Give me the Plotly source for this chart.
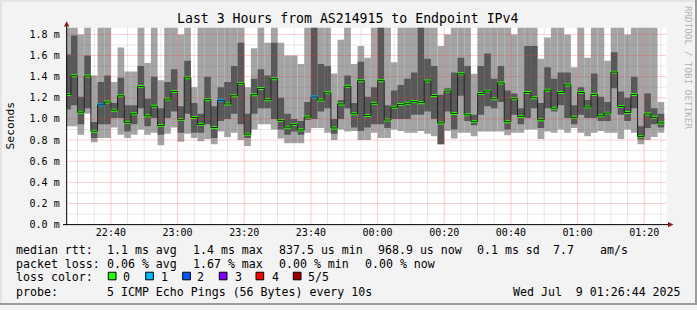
import plotly.graph_objects as go
import pandas as pd

W, H = 697, 310

# ---------------- data (ms) ----------------
col_start = pd.date_range("2025-07-08 22:26:00", periods=90, freq="120s")
ping_min = [0.93,0.93,0.85,1.05,0.78,0.82,0.82,0.92,0.85,0.82,
            0.85,0.90,0.85,0.87,0.75,0.86,0.92,0.785,0.86,0.82,
            0.79,0.81,0.76,0.88,0.83,0.87,0.80,0.745,0.90,0.95,
            0.95,0.90,0.815,0.77,0.77,0.77,0.87,0.915,0.915,0.87,
            0.80,0.90,0.88,0.885,0.80,0.80,0.87,0.82,0.82,0.90,
            0.885,0.87,0.87,0.885,0.86,0.835,0.76,0.885,0.815,0.87,
            0.87,0.835,0.88,0.88,0.88,0.88,0.845,0.87,0.87,0.90,
            0.90,0.81,0.88,0.87,0.90,0.87,0.915,0.87,0.835,0.87,
            0.885,0.87,0.87,0.81,0.90,0.87,0.76,0.80,0.83,0.87]
ping_lo = [1.09,1.13,0.95,1.10,0.82,0.95,0.95,1.01,1.01,0.88,
           0.95,1.10,0.93,1.01,0.85,1.01,1.07,0.87,1.05,0.87,
           0.87,0.95,0.82,0.98,1.00,1.05,0.95,0.82,1.05,1.10,
           1.10,1.00,0.90,0.85,0.88,0.85,0.99,1.00,1.07,1.10,
           0.86,1.00,1.10,0.92,0.885,0.92,0.95,0.95,0.915,1.00,
           1.00,1.00,1.04,1.04,1.07,1.00,0.76,1.07,0.90,1.22,
           0.98,0.94,1.04,1.12,1.10,1.16,0.90,1.04,0.95,1.01,
           1.10,0.915,1.10,1.07,1.13,1.01,0.95,1.04,1.01,1.01,
           0.98,0.98,1.29,1.04,0.98,1.10,0.805,0.915,0.95,0.92]
median = [1.232,1.409,1.064,1.406,0.884,1.133,1.160,1.083,1.219,0.968,
          1.049,1.306,1.030,1.120,0.937,1.188,1.260,0.996,1.390,1.014,
          0.949,1.182,0.919,1.176,1.142,1.219,1.334,0.856,1.229,1.288,
          1.182,1.381,0.984,0.922,0.946,0.897,1.018,1.207,1.179,1.247,
          0.915,1.142,1.309,1.049,1.362,1.033,1.148,1.362,0.990,1.111,
          1.136,1.148,1.164,1.154,1.359,1.222,0.962,1.263,1.052,1.427,
          1.039,0.977,1.241,1.263,1.191,1.340,0.974,1.191,1.024,1.250,
          1.201,0.993,1.272,1.101,1.250,1.322,1.015,1.250,1.114,1.232,
          1.030,1.055,1.443,1.117,1.061,1.232,0.835,1.046,1.015,0.962]
ping_hi = [1.61,1.79,1.21,1.60,0.97,1.35,1.41,1.15,1.39,1.13,
           1.13,1.50,1.19,1.40,1.10,1.35,1.47,1.12,1.55,1.15,
           1.05,1.40,1.12,1.30,1.35,1.50,1.72,1.05,1.38,1.47,
           1.41,1.72,1.20,1.05,1.00,0.98,1.16,1.95,1.52,1.50,
           1.00,1.18,1.41,1.15,1.54,1.21,1.30,1.95,1.13,1.27,
           1.32,1.38,1.44,1.95,1.57,1.50,1.23,1.29,1.44,1.58,
           1.50,1.04,1.50,1.62,1.38,1.50,1.27,1.24,1.10,1.69,
           1.69,1.15,1.49,1.38,1.44,1.44,1.13,1.30,1.18,1.43,
           1.21,1.16,1.63,1.26,1.20,1.40,0.93,1.24,1.10,1.05]
ping_max = [1.95,1.95,1.80,1.95,1.41,1.95,1.95,1.35,1.675,1.45,
            1.45,1.95,1.53,1.95,1.365,1.95,1.95,1.80,1.95,1.30,
            1.95,1.95,1.95,1.95,1.95,1.95,1.95,1.30,1.67,1.95,
            1.72,1.95,1.72,1.60,1.60,1.52,1.95,1.95,1.95,1.95,
            1.43,1.75,1.95,1.52,1.69,1.58,1.95,1.95,1.95,1.536,
            1.95,1.95,1.95,1.95,1.95,1.95,1.69,1.80,1.95,1.95,
            1.95,1.427,1.95,1.95,1.95,1.95,1.95,1.80,1.95,1.95,
            1.95,1.57,1.77,1.95,1.95,1.80,1.49,1.95,1.58,1.95,
            1.95,1.55,1.95,1.95,1.80,1.95,1.95,1.95,1.95,1.16]
loss = [0]*90
for j in (5, 23, 37):
    loss[j] = 1

loss_labels = ["0", "1", "2", "3", "4", "5/5"]
loss_colors = ["#26ff00", "#00b8ff", "#0059ff", "#7e00ff", "#ff0000", "#a00000"]
y_ticks = [0.0, 0.2, 0.4, 0.6, 0.8, 1.0, 1.2, 1.4, 1.6, 1.8]
y_ticktext = ["%.1f m" % v for v in y_ticks]
t0 = pd.Timestamp("2025-07-08 22:26:44")
t1 = pd.Timestamp("2025-07-09 01:26:44")
YMAX = 1.862

# ---------------- geometry ----------------
PL, PR, PT, PB = 66.67, 666.67, 28.3, 228.3
def px(x): return x / W
def py(y): return 1 - y / H

centers = col_start + pd.Timedelta(seconds=60)
STEP_MS = 120000

fig = go.Figure()
fig.add_trace(go.Bar(x=centers, base=ping_min,
                     y=[a - b for a, b in zip(ping_max, ping_min)],
                     width=STEP_MS, marker=dict(color="#a4a4a4", line=dict(width=0)),
                     hoverinfo="skip"))
fig.add_trace(go.Bar(x=centers, base=ping_lo,
                     y=[a - b for a, b in zip(ping_hi, ping_lo)],
                     width=STEP_MS, marker=dict(color="#585858", line=dict(width=0)),
                     hoverinfo="skip"))
fig.add_trace(go.Scatter(x=list(col_start) + [col_start[-1] + pd.Timedelta(seconds=120)],
                         y=median + [median[-1]], mode="lines",
                         line=dict(color="#202020", width=1, shape="hv"),
                         hoverinfo="skip"))
band = 0.028
fig.add_trace(go.Bar(x=centers, base=[m - band / 2 for m in median], y=[band] * 90,
                     width=STEP_MS,
                     marker=dict(color=[loss_colors[l] for l in loss], line=dict(width=0)),
                     hoverinfo="skip"))

shapes = []
for k in range(1, 19):
    v = k * 0.1
    major = (k % 2 == 0)
    shapes.append(dict(type="line", xref="paper", yref="y",
                       x0=px(PL), x1=px(PR), y0=v, y1=v, layer="above",
                       line=dict(color="rgba(240,60,60,0.5)" if major else "rgba(120,120,120,0.35)",
                                 width=1, dash="1px,1px")))
gt = pd.Timestamp("2025-07-08 22:30")
while gt < t1:
    major = (gt.minute % 20 == 0)
    shapes.append(dict(type="line", xref="x", yref="paper",
                       x0=gt, x1=gt, y0=py(PB), y1=py(PT), layer="above",
                       line=dict(color="rgba(240,60,60,0.5)" if major else "rgba(120,120,120,0.35)",
                                 width=1, dash="1px,1px")))
    gt += pd.Timedelta(minutes=5)
shapes.append(dict(type="line", xref="paper", yref="paper", x0=px(PL), x1=px(PL),
                   y0=py(PB + 0.5), y1=py(25), layer="above", line=dict(color="#000000", width=1)))
shapes.append(dict(type="line", xref="paper", yref="paper", x0=px(63), x1=px(670),
                   y0=py(PB), y1=py(PB), layer="above", line=dict(color="#000000", width=1)))
def tri(x0, y0, x1, y1, x2, y2):
    return "M %f %f L %f %f L %f %f Z" % (px(x0), py(y0), px(x1), py(y1), px(x2), py(y2))
shapes.append(dict(type="path", xref="paper", yref="paper", path=tri(64, 27, 69.3, 27, 66.67, 21.5),
                   fillcolor="#8b1a1a", line=dict(width=0), layer="above"))
shapes.append(dict(type="path", xref="paper", yref="paper", path=tri(668, 225.6, 668, 231, 673.5, 228.3),
                   fillcolor="#8b1a1a", line=dict(width=0), layer="above"))
shapes.append(dict(type="rect", xref="paper", yref="paper", x0=0, x1=1, y0=py(2), y1=1,
                   fillcolor="#e4e4e4", line=dict(width=0), layer="below"))
shapes.append(dict(type="rect", xref="paper", yref="paper", x0=0, x1=px(2), y0=0, y1=1,
                   fillcolor="#e4e4e4", line=dict(width=0), layer="below"))
shapes.append(dict(type="rect", xref="paper", yref="paper", x0=0, x1=1, y0=0, y1=py(308),
                   fillcolor="#9c9c9c", line=dict(width=0), layer="below"))
shapes.append(dict(type="rect", xref="paper", yref="paper", x0=px(695), x1=1, y0=0, y1=1,
                   fillcolor="#9c9c9c", line=dict(width=0), layer="below"))

MONO = "DejaVu Sans Mono"
ann = []
PADX = 2.0
def text(x, y, s, size=11.6, color="#000000", anchor="left", angle=0):
    xx = x - PADX if anchor == "left" else x
    ann.append(dict(x=px(xx), y=py(y), xref="paper", yref="paper", text=s, showarrow=False,
                    xanchor=anchor, yanchor="middle", textangle=angle,
                    font=dict(family=MONO, size=size, color=color)))

text(347.5, 19.2, "Last 3 Hours from AS214915 to Endpoint IPv4", size=13.2, anchor="center")
text(10, 127.5, "Seconds", size=11.3, anchor="center", angle=-90)
text(688, 69, "RRDTOOL / TOBI OETIKER", size=9.3, color="#b4b4b4", anchor="center", angle=90)

L1, L2, L3, L4 = 254.0, 268.4, 281.8, 296.3
for x, s in [(16, "median rtt:"), (107.3, "1.1 ms avg"), (193.3, "1.4 ms max"),
             (279.3, "837.5 us min"), (377.5, "968.9 us now"), (477.0, "0.1 ms sd"),
             (553.0, "7.7"), (600, "am/s")]:
    text(x, L1, s)
for x, s in [(16, "packet loss:"), (107.3, "0.06 % avg"), (193.3, "1.67 % max"),
             (279.3, "0.00 % min"), (365, "0.00 % now")]:
    text(x, L2, s)
text(16, L3, "loss color:")
box_x = [108.3, 145.7, 182.7, 219.3, 256.0, 293.3]
lab_x = [123.3, 160.5, 197.3, 234.5, 271.7, 308.3]
for bx, lx, lab, col in zip(box_x, lab_x, loss_labels, loss_colors):
    shapes.append(dict(type="rect", xref="paper", yref="paper",
                       x0=px(bx), x1=px(bx + 7.7), y0=py(284.4), y1=py(276.7),
                       fillcolor=col, line=dict(color="#000000", width=1), layer="above"))
    text(lx, L3, lab)
text(16, L4, "probe:")
text(107.3, L4, "5 ICMP Echo Pings (56 Bytes) every 10s")
text(513.3, L4, "Wed Jul  9 01:26:44 2025")

fig.update_layout(
    width=W, height=H, margin=dict(l=0, r=0, t=0, b=0),
    paper_bgcolor="#f3f3f3", plot_bgcolor="#ffffff",
    barmode="overlay", showlegend=False,
    shapes=shapes, annotations=ann,
    xaxis=dict(domain=[px(PL), px(PR)], type="date", range=[t0, t1],
               tick0="2025-07-08 22:40:00", dtick=20 * 60 * 1000, tickformat="%H:%M",
               showgrid=False, zeroline=False,
               showline=False, ticks="", tickfont=dict(family=MONO, size=10, color="#000000"),
               fixedrange=True),
    yaxis=dict(domain=[py(PB), py(PT)], range=[0, YMAX], tickvals=y_ticks, ticktext=y_ticktext,
               showgrid=False, zeroline=False, showline=False, ticks="",
               ticklabelstandoff=6,
               tickfont=dict(family=MONO, size=10, color="#000000"), fixedrange=True),
)
fig.write_html("out.html", config={"displayModeBar": False})
